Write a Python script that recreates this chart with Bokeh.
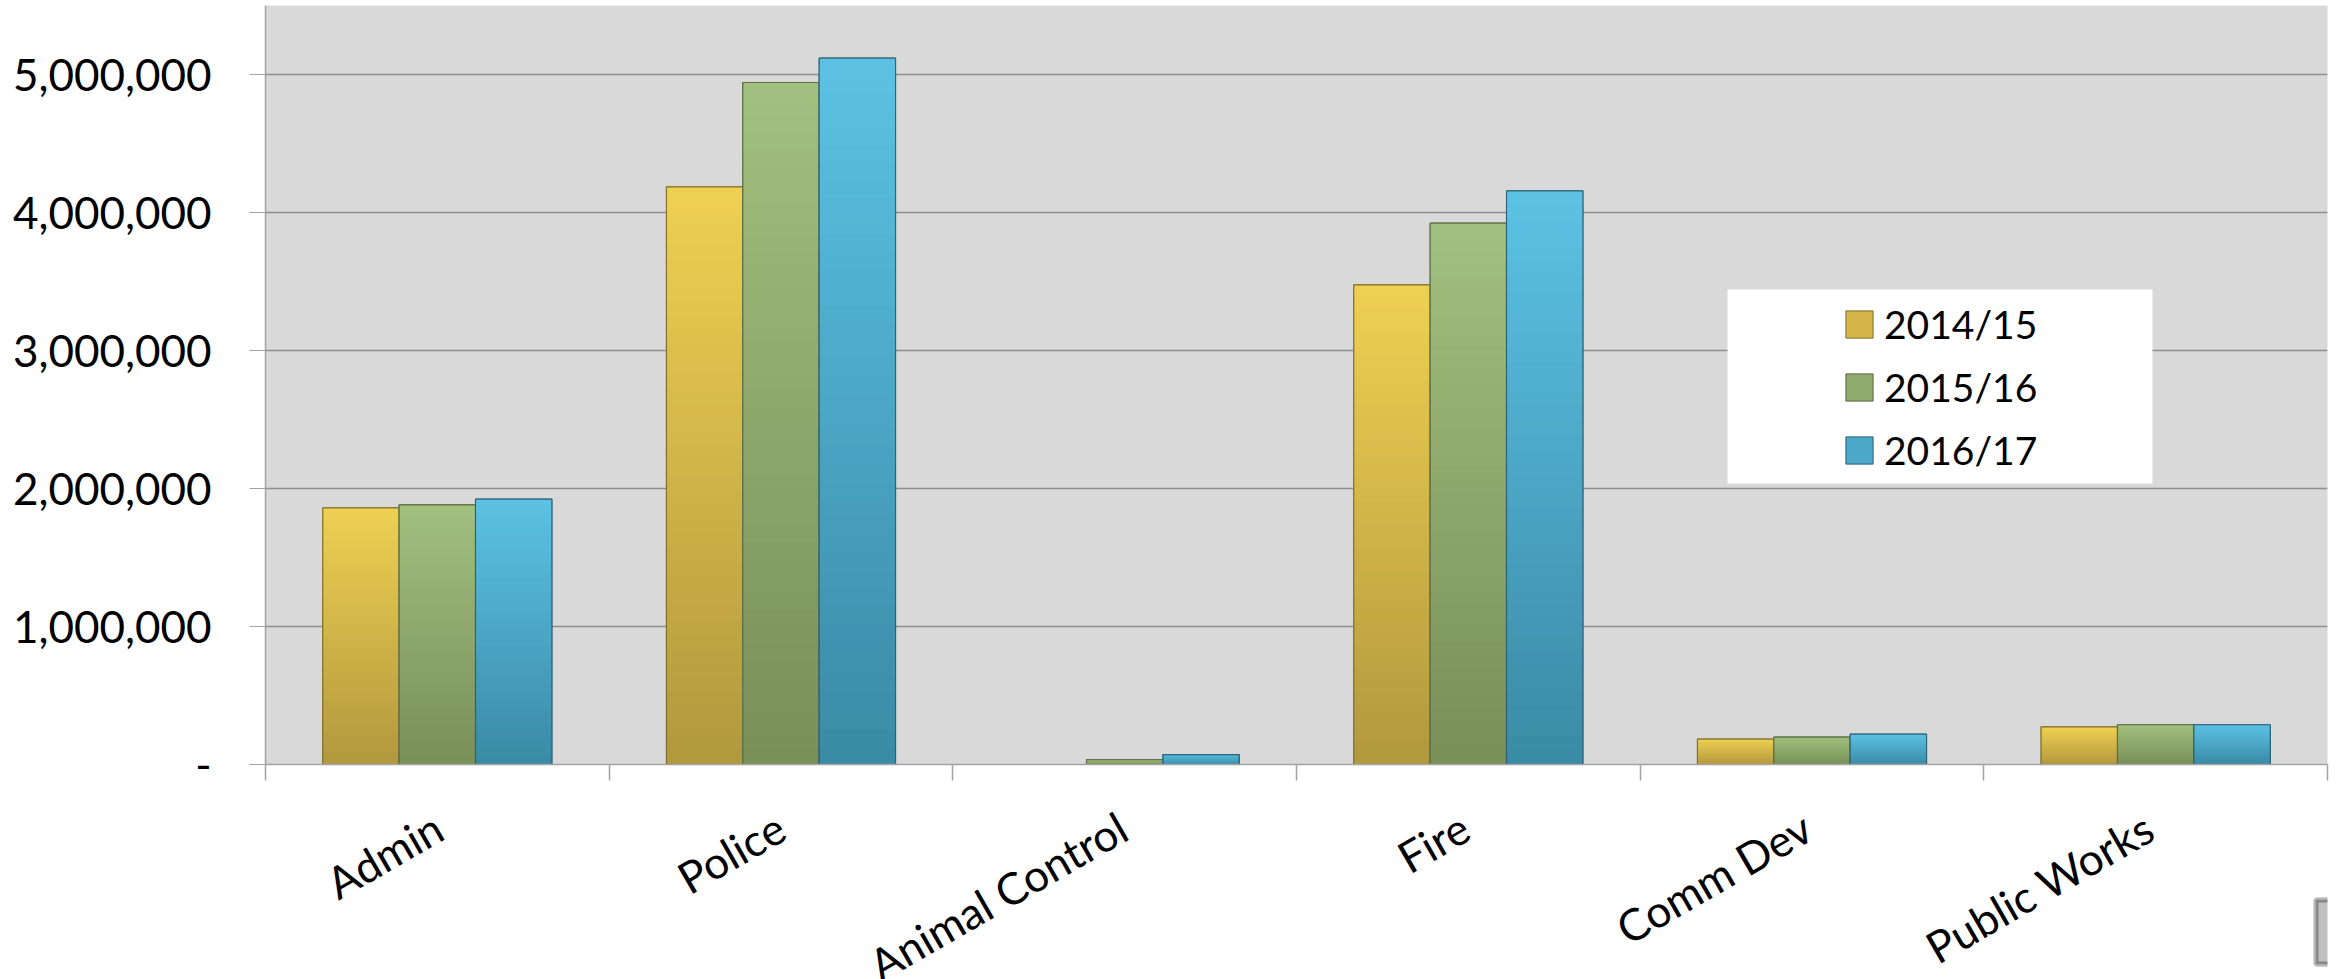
from bokeh.plotting import figure
from bokeh.layouts import column
from bokeh.models import (ColumnDataSource, FixedTicker, Legend, LegendItem,
                          BoxAnnotation, Range1d)
from bokeh.core.properties import value
from bokeh.embed import file_html
from bokeh.resources import INLINE

# ---- data -------------------------------------------------------------
departments = ["Admin", "Police", "Animal Control", "Fire", "Comm Dev", "Public Works"]
years = ["2014/15", "2015/16", "2016/17"]
fy2014_15 = [1860000, 4186000, 0, 3476000, 184000, 273000]
fy2015_16 = [1882000, 4942000, 36000, 3923000, 199000, 288000]
fy2016_17 = [1923000, 5119000, 72000, 4157000, 220000, 288000]
series = [fy2014_15, fy2015_16, fy2016_17]

y_ticks = [0, 1000000, 2000000, 3000000, 4000000, 5000000]
y_tick_labels = ["-", "1,000,000", "2,000,000", "3,000,000", "4,000,000", "5,000,000"]

# ---- styling ----------------------------------------------------------
# (top colour, bottom colour, edge colour, swatch colour) per fiscal year
palette = [
    ((238, 208, 82), (178, 152, 62), "#7F6E2C", "#D4B64A"),
    ((162, 192, 126), (120, 143, 88), "#5A6B45", "#8FAA6C"),
    ((92, 194, 228), (58, 138, 165), "#2C5F72", "#4BA8C8"),
]
FONT = "Lato"
GRID = "#8F8F8F"
AXIS = "#A3A3A3"
N_SLICES = 40
bar_w = 1 / 4.5  # three bars plus a 150% gap per category

WIDTH, HEIGHT = 2336, 979
LEFT, RIGHT, TOP = 265, 9, 5
TICK_STRIP = 26
MAIN_H = 764 + TICK_STRIP     # chart panel (frame + tick strip)
LABEL_H = HEIGHT - MAIN_H


def mix(c_top, c_bot, t):
    r, g, b = (round(c_bot[i] + (c_top[i] - c_bot[i]) * t) for i in range(3))
    return "#%02x%02x%02x" % (r, g, b)


n = len(departments)
p = figure(width=WIDTH, height=MAIN_H, x_range=Range1d(0, n), y_range=Range1d(0, 5500000),
           output_backend="svg", toolbar_location=None,
           min_border_left=LEFT, min_border_right=RIGHT, min_border_top=TOP,
           min_border_bottom=TICK_STRIP)
p.background_fill_color = "#D9D9D9"
p.border_fill_color = "white"
p.outline_line_color = None

base_renderers = []
for s, vals in enumerate(series):
    top_c, bot_c, edge_c, swatch_c = palette[s]
    offset = (s - 1) * bar_w
    lefts, rights, tops = [], [], []
    for i, v in enumerate(vals):
        if v <= 0:
            continue
        cx = i + 0.5 + offset
        lefts.append(cx - bar_w / 2)
        rights.append(cx + bar_w / 2)
        tops.append(v)
    src = ColumnDataSource(dict(left=lefts, right=rights, top=tops, bottom=[0] * len(tops)))
    base = p.quad(left="left", right="right", top="top", bottom="bottom", source=src,
                  fill_color=swatch_c, line_color=edge_c, line_width=1)
    base_renderers.append(base)

    # vertical shading: each bar split into thin bands, darker toward the base
    sl, sr, sb, st, sc = [], [], [], [], []
    for l, r, v in zip(lefts, rights, tops):
        for k in range(N_SLICES):
            sl.append(l)
            sr.append(r)
            sb.append(v * k / N_SLICES)
            st.append(min(v, v * (k + 1.6) / N_SLICES))
            sc.append(mix(top_c, bot_c, (k + 0.5) / N_SLICES))
    p.quad(left="left", right="right", top="top", bottom="bottom",
           source=ColumnDataSource(dict(left=sl, right=sr, top=st, bottom=sb, color=sc)),
           fill_color="color", line_color=None)

    p.quad(left="left", right="right", top="top", bottom="bottom", source=src,
           fill_color=None, line_color=edge_c, line_width=1.2, line_alpha=0.9)

# ---- axes -------------------------------------------------------------
yax = p.yaxis[0]
yax.ticker = FixedTicker(ticks=y_ticks)
yax.major_label_overrides = {t: lab for t, lab in zip(y_ticks, y_tick_labels)}
yax.major_tick_out = 16
yax.major_tick_in = 0
yax.minor_tick_out = 0
yax.minor_tick_in = 0
yax.major_tick_line_color = AXIS
yax.axis_line_color = AXIS
yax.axis_line_width = 1.5
yax.major_label_text_font = FONT
yax.major_label_text_font_size = "44px"
yax.major_label_text_color = "black"
yax.major_label_standoff = 38

# category boundaries are marked by minor ticks; names go in the strip below
xax = p.xaxis[0]
xax.ticker = FixedTicker(ticks=[], minor_ticks=list(range(n + 1)))
xax.minor_tick_out = 16
xax.minor_tick_in = 0
xax.minor_tick_line_color = AXIS
xax.minor_tick_line_width = 1.5
xax.major_tick_line_color = None
xax.major_label_standoff = 0
xax.axis_line_color = AXIS
xax.axis_line_width = 1.5

p.xgrid.visible = False
p.ygrid.ticker = FixedTicker(ticks=y_ticks)
p.ygrid.grid_line_color = GRID
p.ygrid.grid_line_width = 1.3

# ---- legend -----------------------------------------------------------
p.add_layout(BoxAnnotation(left=1462, right=1887, bottom=281, top=475,
                           left_units="screen", right_units="screen",
                           bottom_units="screen", top_units="screen",
                           fill_color="white", fill_alpha=1, line_color=None, level="glyph"))

legend = Legend(items=[LegendItem(label=y, renderers=[r]) for y, r in zip(years, base_renderers)],
                location=(1577, 291), orientation="vertical",
                glyph_width=34, glyph_height=34, label_standoff=8, spacing=17,
                padding=10, margin=0, label_height=46,
                label_text_font=FONT, label_text_font_size="39px", label_text_color="black",
                background_fill_alpha=0, border_line_color=None)
p.add_layout(legend)

# ---- slanted department names ------------------------------------------
frame_w = WIDTH - LEFT - RIGHT
q = figure(width=WIDTH, height=LABEL_H, x_range=Range1d(0, n * (frame_w + RIGHT) / frame_w),
           y_range=Range1d(0, 1), output_backend="svg", toolbar_location=None,
           min_border_left=LEFT, min_border_right=0, min_border_top=0, min_border_bottom=0,
           x_axis_location=None, y_axis_location=None)
q.background_fill_color = "white"
q.border_fill_color = "white"
q.outline_line_color = None
q.grid.visible = False
q.text(x=[i + 0.5 for i in range(n)], y=[1] * n, text=departments,
       angle=30, angle_units="deg", x_offset=2, y_offset=823 - MAIN_H,
       text_align="right", text_baseline="middle",
       text_font=value(FONT), text_font_size="44px", text_color="black")

# grey button edge in the lower-right corner
q.add_layout(BoxAnnotation(left=2315.5, right=2350,
                           top=899.5 - MAIN_H, bottom=963.5 - MAIN_H,
                           left_units="canvas", right_units="canvas",
                           bottom_units="canvas", top_units="canvas",
                           fill_color="#C0C0C0", fill_alpha=1, line_color="black",
                           line_width=5, level="overlay"))

layout = column(p, q, spacing=0)
open("out.html", "w").write(file_html(layout, INLINE))
